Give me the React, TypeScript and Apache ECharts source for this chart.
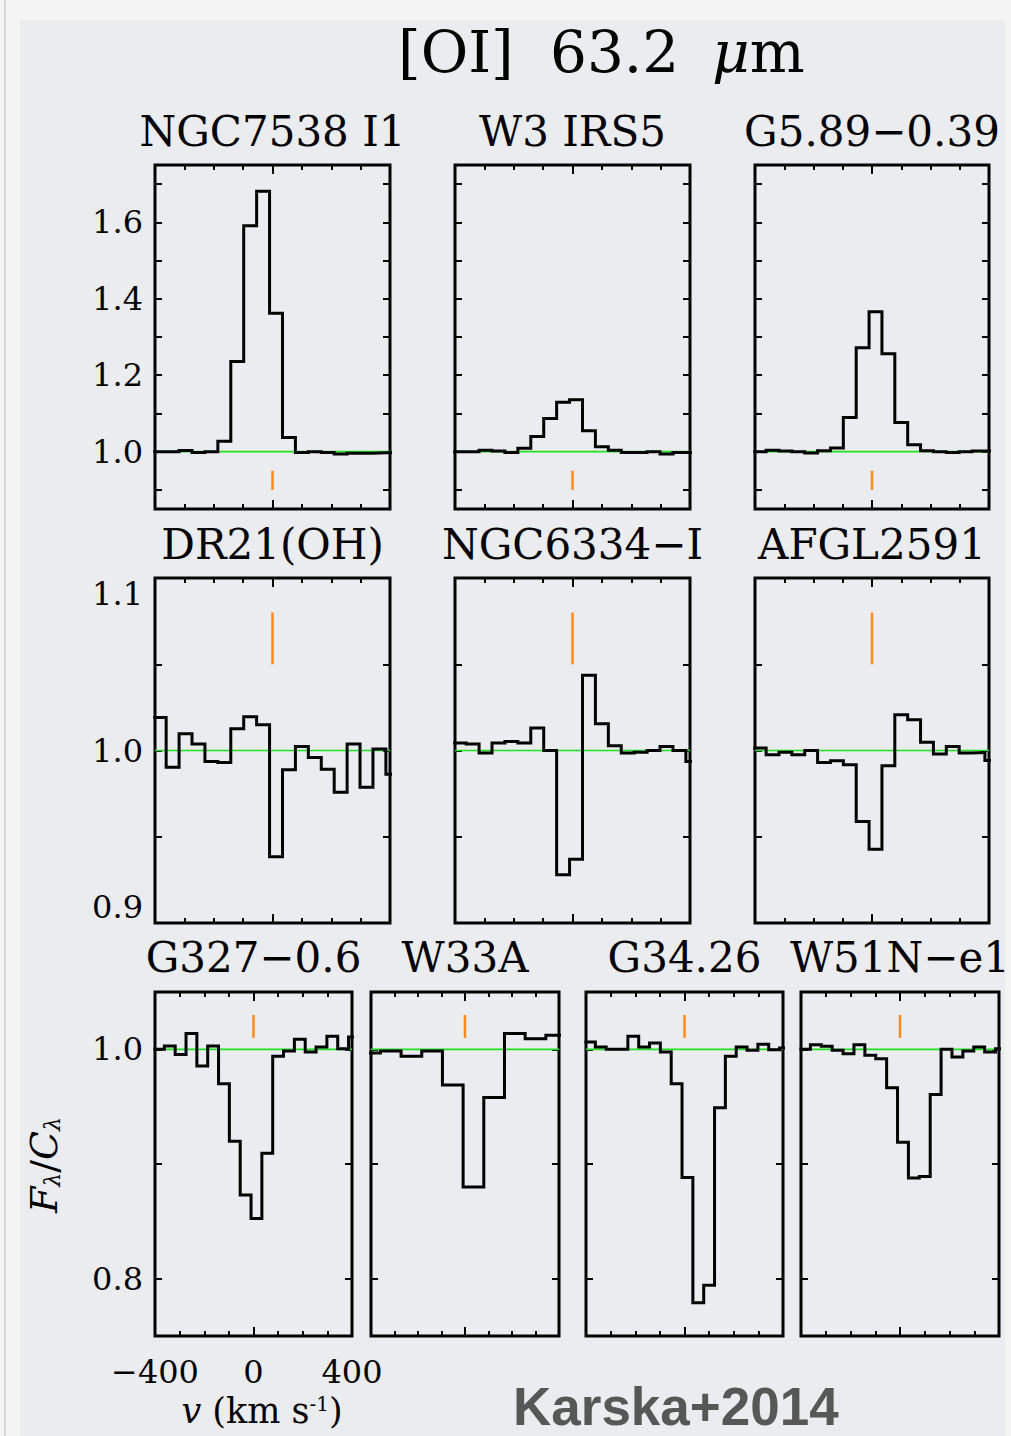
import React, { useEffect, useRef } from "react";
import * as echarts from "echarts";

// ---------- DATA ----------
// velocity bin centres (km/s)
const V44 = [-384, -340, -296, -252, -208, -164, -120, -76, -32, 12, 56, 100, 144, 188, 232, 276, 320, 364, 408];
const V88 = [-404, -316, -228, -140, -52, 36, 124, 212, 300, 388];
const BIN44 = 44;
const BIN88 = 88;

const fluxNGC7538 = [1.0, 1.0, 1.003, 0.998, 1.0, 1.027, 1.236, 1.591, 1.681, 1.362, 1.037, 0.998, 1.0, 0.998, 0.994, 0.996, 0.996, 0.997, 0.997];
const fluxW3IRS5 = [1.0, 1.0, 1.004, 1.002, 0.998, 1.009, 1.04, 1.087, 1.129, 1.136, 1.055, 1.013, 1.004, 0.998, 0.998, 1.0, 0.994, 0.998, 0.998];
const fluxG589 = [1.0, 1.004, 1.002, 1.0, 0.9965, 1.0026, 1.0096, 1.0896, 1.272, 1.366, 1.2565, 1.0765, 1.018, 1.0026, 1.0, 0.998, 1.0, 1.002, 1.002];
const fluxDR21 = [1.0192, 0.9903, 1.0097, 1.0037, 0.9936, 0.993, 1.0126, 1.0196, 1.0149, 0.9384, 0.9888, 1.0023, 0.9959, 0.9892, 0.9758, 1.0037, 0.9787, 1.0008, 0.9863];
const fluxNGC6334 = [1.0043, 1.0037, 0.9985, 1.0043, 1.0052, 1.0043, 1.013, 1.0, 0.928, 0.937, 1.0436, 1.0155, 1.0027, 0.9985, 0.999, 1.0, 1.0023, 1.0, 0.9936];
const fluxAFGL2591 = [1.0014, 0.9975, 0.999, 0.9975, 1.0, 0.993, 0.994, 0.9917, 0.9588, 0.9427, 0.9911, 1.0207, 1.0178, 1.0048, 0.9979, 1.0023, 0.9985, 0.9988, 0.9942];
const fluxG327 = [1.0, 1.003, 0.9956, 1.0137, 0.9854, 1.003, 0.97, 0.9198, 0.8729, 0.8525, 0.9093, 0.9939, 0.9985, 1.0087, 0.9977, 1.002, 1.0114, 1.0006, 1.0108];
const fluxW33A = [0.9968, 0.9985, 0.9939, 0.9985, 0.969, 0.88, 0.958, 1.0137, 1.0093, 1.0122];
const fluxG3426 = [1.0064, 1.002, 1.0, 1.0, 1.0114, 1.002, 1.0055, 0.9977, 0.97, 0.8883, 0.779, 0.7942, 0.949, 0.9939, 1.002, 0.9991, 1.0044, 0.9997, 1.0012];
const fluxW51 = [1.0, 1.004, 1.0026, 0.9991, 0.9962, 1.004, 0.9948, 0.9918, 0.9665, 0.919, 0.8878, 0.889, 0.9606, 1.0, 0.9933, 0.9985, 1.002, 0.9977, 1.0006];

const NAMES = ["NGC7538 I1", "W3 IRS5", "G5.89\u22120.39", "DR21(OH)", "NGC6334\u2212I", "AFGL2591", "G327\u22120.6", "W33A", "G34.26", "W51N\u2212e1"];
const VELS = [V44, V44, V44, V44, V44, V44, V44, V88, V44, V44];
const BINS = [BIN44, BIN44, BIN44, BIN44, BIN44, BIN44, BIN44, BIN88, BIN44, BIN44];
const FLUXES = [fluxNGC7538, fluxW3IRS5, fluxG589, fluxDR21, fluxNGC6334, fluxAFGL2591, fluxG327, fluxW33A, fluxG3426, fluxW51];
const ROW_OF = [0, 0, 0, 1, 1, 1, 2, 2, 2, 2];

// axes
const XMIN = -400;
const XMAX = 400;
const CONTINUUM = 1.0;
const V_SOURCE = 0;
const ROW_YMIN = [0.85, 0.9, 0.75];
const ROW_YMAX = [1.75, 1.1, 1.05];
const ROW_YTICKS = [
  [0.9, 1.0, 1.1, 1.2, 1.3, 1.4, 1.5, 1.6, 1.7],
  [0.95, 1.0, 1.05],
  [0.8, 0.9, 1.0],
];
const ROW_YLABELS = [
  [1.0, 1.2, 1.4, 1.6],
  [0.9, 1.0, 1.1],
  [0.8, 1.0],
];
// orange velocity marker extent (flux units)
const ROW_MARK = [
  [0.9, 0.95],
  [1.05, 1.08],
  [1.01, 1.03],
];

// ---------- LAYOUT ----------
const LAYOUT = [
  [155, 165, 235, 344],
  [455, 165, 235, 344],
  [755, 165, 234, 344],
  [155, 578, 235, 345],
  [455, 578, 235, 345],
  [755, 578, 234, 345],
  [155, 992, 197, 344],
  [371, 992, 188, 344],
  [586, 992, 197, 344],
  [801, 992, 198, 344],
];
const ROW_TITLE_Y = [131, 544, 957];
const SERIF = "DejaVu Serif";

function buildOption() {
  const grids: any[] = [];
  const xAxes: any[] = [];
  const yAxes: any[] = [];
  const series: any[] = [];
  const graphics: any[] = [];
  const tickStyle = { color: "#000", width: 2 };

  NAMES.forEach((name, i) => {
    const [left, top, width, height] = LAYOUT[i];
    const row = ROW_OF[i];
    grids.push({
      left, top, width, height,
      show: true, borderColor: "#000", borderWidth: 3, backgroundColor: "transparent",
      containLabel: false, outerBoundsMode: "none",
    });
    const xBase = {
      type: "value", gridIndex: i, min: XMIN, max: XMAX, interval: 400,
      axisLine: { show: false, onZero: false }, splitLine: { show: false },
      axisTick: { show: true, inside: true, length: 9, lineStyle: tickStyle },
      minorTick: { show: true, splitNumber: 4, length: 5, lineStyle: tickStyle },
      minorSplitLine: { show: false },
    };
    xAxes.push({
      ...xBase, position: "bottom",
      axisLabel: {
        show: i === 6, fontFamily: SERIF, fontSize: 32, color: "#000", margin: 20,
        showMinLabel: true, showMaxLabel: true, hideOverlap: false,
        formatter: (v: number) => String(v).replace("-", "\u2212"),
      },
    });
    xAxes.push({ ...xBase, position: "top", axisLabel: { show: false } });
    const yBase = {
      type: "value", gridIndex: i, min: ROW_YMIN[row], max: ROW_YMAX[row],
      axisLine: { show: false, onZero: false }, splitLine: { show: false },
      axisTick: { show: true, inside: true, length: 7, customValues: ROW_YTICKS[row], lineStyle: tickStyle },
    };
    const firstInRow = i === 0 || i === 3 || i === 6;
    const yLabel: any = {
      show: firstInRow, customValues: ROW_YLABELS[row], fontFamily: SERIF, fontSize: 32, color: "#000",
      margin: 12, formatter: (v: number) => v.toFixed(1), showMinLabel: true, showMaxLabel: true, hideOverlap: false,
    };
    if (row === 1) {
      yLabel.verticalAlignMinLabel = "bottom";
      yLabel.verticalAlignMaxLabel = "top";
    }
    yAxes.push({ ...yBase, position: "left", axisLabel: yLabel });
    yAxes.push({ ...yBase, position: "right", axisLabel: { show: false } });

    const xIdx = 2 * i;
    const yIdx = 2 * i;
    // continuum
    series.push({
      type: "line", xAxisIndex: xIdx, yAxisIndex: yIdx, silent: true, symbol: "none", z: 2,
      data: [[XMIN, CONTINUUM], [XMAX, CONTINUUM]],
      lineStyle: { color: "#1fe21f", width: 1.6 },
    });
    // source velocity marker
    series.push({
      type: "line", xAxisIndex: xIdx, yAxisIndex: yIdx, silent: true, symbol: "none", z: 2,
      data: [[V_SOURCE, ROW_MARK[row][0]], [V_SOURCE, ROW_MARK[row][1]]],
      lineStyle: { color: "#ff8a1c", width: 2.5 },
    });
    // spectrum (histogram)
    const vel = VELS[i];
    const flux = FLUXES[i];
    const hw = BINS[i] / 2;
    const data: number[][] = vel.map((v, k) => [v - hw, flux[k]]);
    data.push([vel[vel.length - 1] + hw, flux[flux.length - 1]]);
    series.push({
      type: "line", xAxisIndex: xIdx, yAxisIndex: yIdx, silent: true, symbol: "none", z: 3,
      step: "end", clip: true, data,
      lineStyle: { color: "#000", width: 3, join: "miter" },
    });

    graphics.push({
      type: "text", x: left + width / 2, y: ROW_TITLE_Y[row], z: 10,
      style: { text: name, fontFamily: SERIF, fontSize: 42, fill: "#000", align: "center", verticalAlign: "middle" },
    });
  });

  // page frame bands
  graphics.unshift(
    { type: "rect", shape: { x: 0, y: 0, width: 1011, height: 20 }, style: { fill: "#f4f4f4" }, z: 0 },
    { type: "rect", shape: { x: 0, y: 0, width: 20, height: 1436 }, style: { fill: "#f4f4f4" }, z: 0 },
    { type: "rect", shape: { x: 1005, y: 0, width: 6, height: 1436 }, style: { fill: "#f4f4f4" }, z: 0 },
    { type: "rect", shape: { x: 4, y: 0, width: 2, height: 1436 }, style: { fill: "#d6d6d6" }, z: 0 },
  );

  // main title
  graphics.push(
    { type: "text", x: 398, y: 52, z: 10, style: { text: "[OI]", fontFamily: SERIF, fontSize: 58, fill: "#000", align: "left", verticalAlign: "middle" } },
    { type: "text", x: 550, y: 52, z: 10, style: { text: "63.2", fontFamily: SERIF, fontSize: 58, fill: "#000", align: "left", verticalAlign: "middle" } },
    {
      type: "text", x: 712, y: 52, z: 10,
      style: {
        text: "{i|\u03bc}{n|m}", align: "left", verticalAlign: "middle",
        rich: {
          i: { fontFamily: SERIF, fontSize: 58, fontStyle: "italic", fill: "#000" },
          n: { fontFamily: SERIF, fontSize: 58, fill: "#000" },
        },
      },
    },
  );

  // y axis title
  graphics.push({
    type: "text", x: 44, y: 1165, rotation: Math.PI / 2, z: 10,
    style: {
      text: "{i|F}{s|\u03bb}{n|/}{i|C}{s|\u03bb}", align: "center", verticalAlign: "middle",
      rich: {
        i: { fontFamily: SERIF, fontSize: 38, fontStyle: "italic", fill: "#000" },
        n: { fontFamily: SERIF, fontSize: 38, fill: "#000" },
        s: { fontFamily: SERIF, fontSize: 22, fontStyle: "italic", fill: "#000", verticalAlign: "bottom" },
      },
    },
  });

  // x axis title
  graphics.push({
    type: "text", x: 262, y: 1411, z: 10,
    style: {
      text: "{i|v}{n| (km s}{s|-1}{n|)}", align: "center", verticalAlign: "middle",
      rich: {
        i: { fontFamily: SERIF, fontSize: 35, fontStyle: "italic", fill: "#000" },
        n: { fontFamily: SERIF, fontSize: 35, fill: "#000" },
        s: { fontFamily: SERIF, fontSize: 20, fill: "#000", verticalAlign: "top" },
      },
    },
  });

  // credit
  graphics.push({
    type: "text", x: 513, y: 1406, z: 10,
    style: {
      text: "Karska+2014", fontFamily: "Liberation Sans", fontWeight: "bold", fontSize: 53,
      fill: "#575757", align: "left", verticalAlign: "middle",
    },
  });

  return {
    animation: false,
    backgroundColor: "#eaecf0",
    grid: grids,
    xAxis: xAxes,
    yAxis: yAxes,
    series,
    graphic: { elements: graphics },
  };
}

export default function App() {
  const ref = useRef<HTMLDivElement>(null);
  useEffect(() => {
    const chart = echarts.init(ref.current!, null, { renderer: "svg" });
    chart.setOption(buildOption() as any);
    return () => chart.dispose();
  }, []);
  return <div ref={ref} style={{ position: "absolute", left: 0, top: 0, width: 1011, height: 1436 }} />;
}
